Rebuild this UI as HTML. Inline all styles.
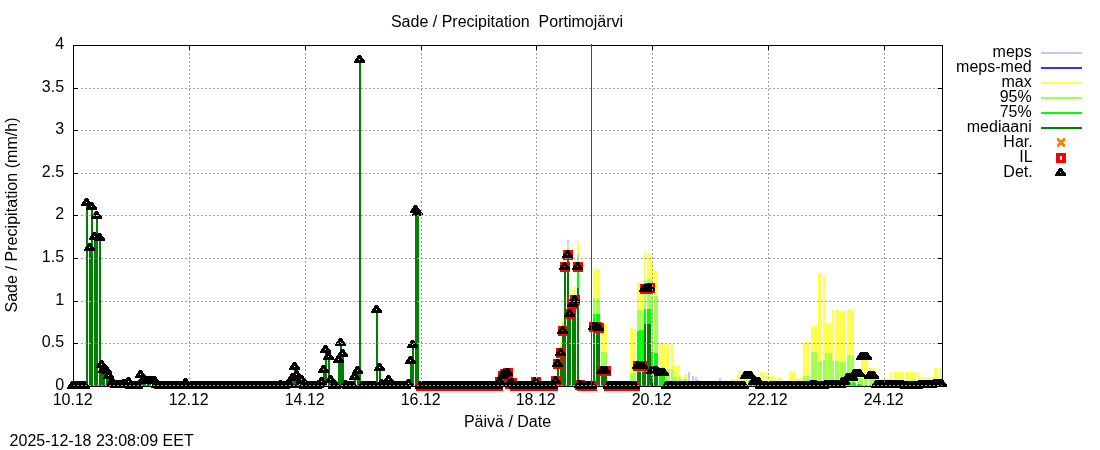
<!DOCTYPE html>
<html><head><meta charset="utf-8"><title>Sade / Precipitation Portimojärvi</title>
<style>html,body{margin:0;padding:0;background:#fff}svg{display:block}text{font-family:"Liberation Sans",sans-serif;font-size:16px;fill:#000}</style>
</head><body>
<svg width="1100" height="450" viewBox="0 0 1100 450">
<rect width="1100" height="450" fill="#fff"/>
<defs>
<path id="t" fill-rule="evenodd" d="M-1,-4h3v1h-3zM-2,-3h5v1h-5zM-2,-2h5v1h-5zM-3,-1h7v1h-7zM-4,0h9v1h-9zM-4,1h10v1h-10zM-5,2h11v1h-11zM-5,3h11v1h-11zM0,0h1v1h-1z"/>
<path id="q" fill-rule="evenodd" fill="#ff0000" d="M-4,-4h10v10h-10zM0,-1h2v4h-2z"/>
<path id="x" fill="#ff7f00" d="M-3,-4h2v1h-2zM3,-4h2v1h-2zM-3,-3h3v1h-3zM2,-3h3v1h-3zM-3,-2h8v1h-8zM-2,-1h6v1h-6zM-1,0h4v1h-4zM-2,1h6v1h-6zM-3,2h8v1h-8zM-3,3h3v1h-3zM2,3h3v1h-3zM-3,4h2v1h-2zM3,4h2v1h-2z"/>
</defs>
<g shape-rendering="crispEdges">
<path fill="#c6c6fc" d="M567,240h2V386h-2zM685,375h2V386h-2zM688,372h2V386h-2zM692,376h2V386h-2zM695,377h2V386h-2zM697,380h2V386h-2zM719,378h2V386h-2z"/>
<path fill="#ffff50" d="M560,341h2V386h-2zM562,319h2V386h-2zM567,245h2V386h-2zM572,290h2V386h-2zM574,286h2V386h-2zM577,241h2V386h-2zM593,268h2V386h-2zM596,269h2V386h-2zM598,269h2V386h-2zM601,324h2V386h-2zM603,324h2V386h-2zM605,324h2V386h-2zM630,328h2V386h-2zM632,329h2V386h-2zM634,329h2V386h-2zM637,283h2V386h-2zM639,283h2V386h-2zM642,283h2V386h-2zM644,252h2V386h-2zM647,253h2V386h-2zM649,254h2V386h-2zM651,262h2V386h-2zM654,270h2V386h-2zM656,271h2V386h-2zM659,343h2V386h-2zM661,343h2V386h-2zM663,343h2V386h-2zM666,345h2V386h-2zM668,344h2V386h-2zM671,344h2V386h-2zM673,365h2V386h-2zM675,365h2V386h-2zM678,365h2V386h-2zM680,376h2V386h-2zM683,376h2V386h-2zM685,376h2V386h-2zM731,379h2V386h-2zM733,379h2V386h-2zM736,379h2V386h-2zM738,371h2V386h-2zM741,371h2V386h-2zM743,371h2V386h-2zM745,371h2V386h-2zM748,371h2V386h-2zM750,371h2V386h-2zM753,378h2V386h-2zM755,378h2V386h-2zM758,378h2V386h-2zM760,372h2V386h-2zM762,372h2V386h-2zM765,372h2V386h-2zM767,376h2V386h-2zM770,376h2V386h-2zM772,376h2V386h-2zM774,378h2V386h-2zM777,378h2V386h-2zM779,378h2V386h-2zM789,371h2V386h-2zM791,371h2V386h-2zM794,371h2V386h-2zM796,378h2V386h-2zM799,378h2V386h-2zM801,378h2V386h-2zM803,342h2V386h-2zM806,342h2V386h-2zM808,342h2V386h-2zM811,326h2V386h-2zM813,326h2V386h-2zM815,326h2V386h-2zM818,273h2V386h-2zM820,273h2V386h-2zM823,275h2V386h-2zM825,323h2V386h-2zM828,323h2V386h-2zM830,323h2V386h-2zM832,310h2V386h-2zM835,310h2V386h-2zM837,310h2V386h-2zM840,311h2V386h-2zM842,311h2V386h-2zM844,311h2V386h-2zM847,309h2V386h-2zM849,309h2V386h-2zM852,309h2V386h-2zM854,369h2V386h-2zM857,369h2V386h-2zM859,369h2V386h-2zM861,356h2V386h-2zM864,356h2V386h-2zM866,356h2V386h-2zM869,368h2V386h-2zM871,368h2V386h-2zM873,368h2V386h-2zM876,378h2V386h-2zM878,378h2V386h-2zM881,378h2V386h-2zM883,379h2V386h-2zM885,379h2V386h-2zM888,379h2V386h-2zM890,372h2V386h-2zM893,372h2V386h-2zM895,372h2V386h-2zM898,372h2V386h-2zM900,372h2V386h-2zM902,372h2V386h-2zM905,372h2V386h-2zM907,372h2V386h-2zM910,372h2V386h-2zM912,372h2V386h-2zM914,372h2V386h-2zM917,372h2V386h-2zM919,377h2V386h-2zM922,377h2V386h-2zM924,377h2V386h-2zM927,377h2V386h-2zM929,377h2V386h-2zM931,377h2V386h-2zM934,368h2V386h-2zM936,368h2V386h-2zM939,368h2V386h-2zM941,368h2V386h-2z"/>
<path fill="#a5ff50" d="M557,358h2V386h-2zM560,346h2V386h-2zM562,323h2V386h-2zM567,247h2V386h-2zM577,254h2V386h-2zM593,298h2V386h-2zM596,299h2V386h-2zM598,299h2V386h-2zM601,352h2V386h-2zM603,352h2V386h-2zM605,352h2V386h-2zM630,373h2V386h-2zM632,373h2V386h-2zM634,373h2V386h-2zM637,310h2V386h-2zM639,310h2V386h-2zM642,311h2V386h-2zM644,280h2V386h-2zM647,279h2V386h-2zM649,279h2V386h-2zM651,296h2V386h-2zM654,296h2V386h-2zM656,296h2V386h-2zM659,367h2V386h-2zM661,367h2V386h-2zM663,367h2V386h-2zM666,369h2V386h-2zM668,369h2V386h-2zM671,369h2V386h-2zM673,377h2V386h-2zM675,377h2V386h-2zM678,377h2V386h-2zM680,379h2V386h-2zM683,379h2V386h-2zM685,379h2V386h-2zM745,380h2V386h-2zM748,380h2V386h-2zM750,380h2V386h-2zM803,376h2V386h-2zM806,376h2V386h-2zM808,376h2V386h-2zM811,352h2V386h-2zM813,352h2V386h-2zM815,352h2V386h-2zM818,361h2V386h-2zM820,361h2V386h-2zM823,360h2V386h-2zM825,353h2V386h-2zM828,353h2V386h-2zM830,353h2V386h-2zM832,361h2V386h-2zM835,361h2V386h-2zM837,361h2V386h-2zM840,362h2V386h-2zM842,362h2V386h-2zM844,362h2V386h-2zM847,355h2V386h-2zM849,355h2V386h-2zM852,355h2V386h-2zM854,378h2V386h-2zM857,378h2V386h-2zM859,378h2V386h-2zM861,378h2V386h-2zM864,378h2V386h-2zM866,378h2V386h-2zM869,379h2V386h-2zM871,379h2V386h-2zM873,379h2V386h-2zM905,380h2V386h-2zM907,380h2V386h-2zM910,380h2V386h-2zM912,380h2V386h-2zM914,380h2V386h-2zM917,380h2V386h-2z"/>
<path fill="#00ff00" d="M577,262h2V386h-2zM593,314h2V386h-2zM596,314h2V386h-2zM598,314h2V386h-2zM601,370h2V386h-2zM603,370h2V386h-2zM605,370h2V386h-2zM637,331h2V386h-2zM639,330h2V386h-2zM642,330h2V386h-2zM644,309h2V386h-2zM647,309h2V386h-2zM649,309h2V386h-2zM651,352h2V386h-2zM654,353h2V386h-2zM656,353h2V386h-2zM659,376h2V386h-2zM661,376h2V386h-2zM663,376h2V386h-2zM750,385h2V386h-2zM753,385h2V386h-2zM755,385h2V386h-2zM849,382h2V386h-2zM852,382h2V386h-2zM854,383h2V386h-2zM857,384h2V386h-2zM859,384h2V386h-2z"/>
<path fill="#008000" d="M86,203h2V386h-2zM89,248h2V386h-2zM91,207h2V386h-2zM94,237h2V386h-2zM96,216h2V386h-2zM99,238h2V386h-2zM101,365h2V386h-2zM103,370h2V386h-2zM106,371h2V386h-2zM108,376h2V386h-2zM111,383h2V386h-2zM113,384h2V386h-2zM115,385h2V386h-2zM118,385h2V386h-2zM120,385h2V386h-2zM123,384h2V386h-2zM125,384h2V386h-2zM128,382h2V386h-2zM140,375h2V386h-2zM142,381h2V386h-2zM144,381h2V386h-2zM147,381h2V386h-2zM149,381h2V386h-2zM152,381h2V386h-2zM154,381h2V386h-2zM156,385h2V386h-2zM185,383h2V386h-2zM280,385h2V386h-2zM287,385h2V386h-2zM289,385h2V386h-2zM292,378h2V386h-2zM294,367h2V386h-2zM296,375h2V386h-2zM299,385h2V386h-2zM301,380h2V386h-2zM318,385h2V386h-2zM321,382h2V386h-2zM323,370h2V386h-2zM325,350h2V386h-2zM328,357h2V386h-2zM330,380h2V386h-2zM338,360h2V386h-2zM340,343h2V386h-2zM342,354h2V386h-2zM345,385h2V386h-2zM354,377h2V386h-2zM357,371h2V386h-2zM359,60h2V386h-2zM376,310h2V386h-2zM379,368h2V386h-2zM381,384h2V386h-2zM388,380h2V386h-2zM408,384h2V386h-2zM410,361h2V386h-2zM412,345h2V386h-2zM415,210h2V386h-2zM417,213h2V386h-2zM499,382h2V386h-2zM502,376h2V386h-2zM504,374h2V386h-2zM507,373h2V386h-2zM509,384h2V386h-2zM511,383h2V386h-2zM535,382h2V386h-2zM555,381h2V386h-2zM557,364h2V386h-2zM560,353h2V386h-2zM562,331h2V386h-2zM564,267h2V386h-2zM567,255h2V386h-2zM569,314h2V386h-2zM572,304h2V386h-2zM574,300h2V386h-2zM577,288h2V386h-2zM579,385h2V386h-2zM593,326h2V386h-2zM596,327h2V386h-2zM598,327h2V386h-2zM601,370h2V386h-2zM603,370h2V386h-2zM605,370h2V386h-2zM637,372h2V386h-2zM639,372h2V386h-2zM642,372h2V386h-2zM644,324h2V386h-2zM647,324h2V386h-2zM649,324h2V386h-2zM651,376h2V386h-2zM654,376h2V386h-2zM656,376h2V386h-2z"/>
<use href="#x" x="420" y="385"/><use href="#x" x="422" y="385"/><use href="#x" x="424" y="385"/><use href="#x" x="427" y="385"/><use href="#x" x="429" y="385"/><use href="#x" x="432" y="385"/><use href="#x" x="434" y="385"/><use href="#x" x="436" y="385"/><use href="#x" x="439" y="385"/><use href="#x" x="441" y="385"/><use href="#x" x="444" y="385"/><use href="#x" x="446" y="385"/><use href="#x" x="449" y="385"/><use href="#x" x="451" y="385"/><use href="#x" x="453" y="385"/><use href="#x" x="456" y="385"/><use href="#x" x="458" y="385"/><use href="#x" x="461" y="385"/><use href="#x" x="463" y="385"/><use href="#x" x="465" y="385"/><use href="#x" x="468" y="385"/><use href="#x" x="470" y="385"/><use href="#x" x="473" y="385"/><use href="#x" x="475" y="385"/><use href="#x" x="478" y="385"/><use href="#x" x="480" y="385"/><use href="#x" x="482" y="385"/><use href="#x" x="485" y="385"/><use href="#x" x="487" y="385"/><use href="#x" x="490" y="385"/><use href="#x" x="492" y="385"/><use href="#x" x="494" y="385"/><use href="#x" x="497" y="385"/><use href="#x" x="499" y="381"/><use href="#x" x="502" y="375"/><use href="#x" x="504" y="373"/><use href="#x" x="507" y="372"/><use href="#x" x="509" y="383"/><use href="#x" x="511" y="382"/><use href="#x" x="514" y="385"/><use href="#x" x="516" y="385"/><use href="#x" x="519" y="385"/><use href="#x" x="521" y="385"/><use href="#x" x="523" y="385"/><use href="#x" x="526" y="385"/><use href="#x" x="528" y="385"/><use href="#x" x="531" y="385"/><use href="#x" x="533" y="385"/><use href="#x" x="535" y="381"/><use href="#x" x="538" y="385"/><use href="#x" x="540" y="385"/><use href="#x" x="543" y="385"/><use href="#x" x="545" y="385"/><use href="#x" x="548" y="385"/><use href="#x" x="550" y="385"/><use href="#x" x="552" y="385"/><use href="#x" x="555" y="380"/><use href="#x" x="557" y="363"/><use href="#x" x="560" y="352"/><use href="#x" x="562" y="330"/><use href="#x" x="564" y="266"/><use href="#x" x="567" y="254"/><use href="#x" x="569" y="313"/><use href="#x" x="572" y="303"/><use href="#x" x="574" y="299"/><use href="#x" x="577" y="266"/><use href="#x" x="579" y="384"/><use href="#x" x="581" y="385"/><use href="#x" x="584" y="385"/><use href="#x" x="586" y="385"/><use href="#x" x="589" y="385"/><use href="#x" x="591" y="385"/><use href="#x" x="593" y="326"/><use href="#x" x="596" y="326"/><use href="#x" x="598" y="327"/><use href="#x" x="601" y="370"/><use href="#x" x="603" y="370"/><use href="#x" x="605" y="370"/><use href="#x" x="608" y="385"/><use href="#x" x="610" y="385"/><use href="#x" x="613" y="385"/><use href="#x" x="615" y="385"/><use href="#x" x="618" y="385"/><use href="#x" x="620" y="385"/><use href="#x" x="622" y="385"/><use href="#x" x="625" y="385"/><use href="#x" x="627" y="385"/><use href="#x" x="630" y="385"/><use href="#x" x="632" y="385"/><use href="#x" x="634" y="385"/><use href="#x" x="637" y="365"/><use href="#x" x="639" y="365"/><use href="#x" x="642" y="365"/><use href="#x" x="644" y="288"/><use href="#x" x="647" y="288"/><use href="#x" x="649" y="287"/>
<use href="#q" x="420" y="385"/><use href="#q" x="422" y="385"/><use href="#q" x="424" y="385"/><use href="#q" x="427" y="385"/><use href="#q" x="429" y="385"/><use href="#q" x="432" y="385"/><use href="#q" x="434" y="385"/><use href="#q" x="436" y="385"/><use href="#q" x="439" y="385"/><use href="#q" x="441" y="385"/><use href="#q" x="444" y="385"/><use href="#q" x="446" y="385"/><use href="#q" x="449" y="385"/><use href="#q" x="451" y="385"/><use href="#q" x="453" y="385"/><use href="#q" x="456" y="385"/><use href="#q" x="458" y="385"/><use href="#q" x="461" y="385"/><use href="#q" x="463" y="385"/><use href="#q" x="465" y="385"/><use href="#q" x="468" y="385"/><use href="#q" x="470" y="385"/><use href="#q" x="473" y="385"/><use href="#q" x="475" y="385"/><use href="#q" x="478" y="385"/><use href="#q" x="480" y="385"/><use href="#q" x="482" y="385"/><use href="#q" x="485" y="385"/><use href="#q" x="487" y="385"/><use href="#q" x="490" y="385"/><use href="#q" x="492" y="385"/><use href="#q" x="494" y="385"/><use href="#q" x="497" y="385"/><use href="#q" x="499" y="381"/><use href="#q" x="502" y="375"/><use href="#q" x="504" y="373"/><use href="#q" x="507" y="372"/><use href="#q" x="509" y="383"/><use href="#q" x="511" y="382"/><use href="#q" x="514" y="385"/><use href="#q" x="516" y="385"/><use href="#q" x="519" y="385"/><use href="#q" x="521" y="385"/><use href="#q" x="523" y="385"/><use href="#q" x="526" y="385"/><use href="#q" x="528" y="385"/><use href="#q" x="531" y="385"/><use href="#q" x="533" y="385"/><use href="#q" x="535" y="381"/><use href="#q" x="538" y="385"/><use href="#q" x="540" y="385"/><use href="#q" x="543" y="385"/><use href="#q" x="545" y="385"/><use href="#q" x="548" y="385"/><use href="#q" x="550" y="385"/><use href="#q" x="552" y="385"/><use href="#q" x="555" y="380"/><use href="#q" x="557" y="363"/><use href="#q" x="560" y="352"/><use href="#q" x="562" y="330"/><use href="#q" x="564" y="266"/><use href="#q" x="567" y="254"/><use href="#q" x="569" y="313"/><use href="#q" x="572" y="303"/><use href="#q" x="574" y="299"/><use href="#q" x="577" y="266"/><use href="#q" x="579" y="384"/><use href="#q" x="581" y="385"/><use href="#q" x="584" y="385"/><use href="#q" x="586" y="385"/><use href="#q" x="589" y="385"/><use href="#q" x="591" y="385"/><use href="#q" x="593" y="326"/><use href="#q" x="596" y="326"/><use href="#q" x="598" y="327"/><use href="#q" x="601" y="370"/><use href="#q" x="603" y="370"/><use href="#q" x="605" y="370"/><use href="#q" x="608" y="385"/><use href="#q" x="610" y="385"/><use href="#q" x="613" y="385"/><use href="#q" x="615" y="385"/><use href="#q" x="618" y="385"/><use href="#q" x="620" y="385"/><use href="#q" x="622" y="385"/><use href="#q" x="625" y="385"/><use href="#q" x="627" y="385"/><use href="#q" x="630" y="385"/><use href="#q" x="632" y="385"/><use href="#q" x="634" y="385"/><use href="#q" x="637" y="365"/><use href="#q" x="639" y="365"/><use href="#q" x="642" y="365"/><use href="#q" x="644" y="288"/><use href="#q" x="647" y="288"/><use href="#q" x="649" y="287"/>
<use href="#t" x="72" y="385"/><use href="#t" x="74" y="385"/><use href="#t" x="77" y="385"/><use href="#t" x="79" y="385"/><use href="#t" x="82" y="385"/><use href="#t" x="84" y="385"/><use href="#t" x="86" y="202"/><use href="#t" x="89" y="247"/><use href="#t" x="91" y="206"/><use href="#t" x="94" y="236"/><use href="#t" x="96" y="215"/><use href="#t" x="99" y="237"/><use href="#t" x="101" y="364"/><use href="#t" x="103" y="369"/><use href="#t" x="106" y="370"/><use href="#t" x="108" y="375"/><use href="#t" x="111" y="382"/><use href="#t" x="113" y="383"/><use href="#t" x="115" y="384"/><use href="#t" x="118" y="384"/><use href="#t" x="120" y="384"/><use href="#t" x="123" y="383"/><use href="#t" x="125" y="383"/><use href="#t" x="128" y="381"/><use href="#t" x="130" y="385"/><use href="#t" x="132" y="385"/><use href="#t" x="135" y="385"/><use href="#t" x="137" y="385"/><use href="#t" x="140" y="374"/><use href="#t" x="142" y="380"/><use href="#t" x="144" y="380"/><use href="#t" x="147" y="380"/><use href="#t" x="149" y="380"/><use href="#t" x="152" y="380"/><use href="#t" x="154" y="380"/><use href="#t" x="156" y="384"/><use href="#t" x="159" y="385"/><use href="#t" x="161" y="385"/><use href="#t" x="164" y="385"/><use href="#t" x="166" y="385"/><use href="#t" x="169" y="385"/><use href="#t" x="171" y="385"/><use href="#t" x="173" y="385"/><use href="#t" x="176" y="385"/><use href="#t" x="178" y="385"/><use href="#t" x="181" y="385"/><use href="#t" x="183" y="385"/><use href="#t" x="185" y="382"/><use href="#t" x="188" y="385"/><use href="#t" x="190" y="385"/><use href="#t" x="193" y="385"/><use href="#t" x="195" y="385"/><use href="#t" x="198" y="385"/><use href="#t" x="200" y="385"/><use href="#t" x="202" y="385"/><use href="#t" x="205" y="385"/><use href="#t" x="207" y="385"/><use href="#t" x="210" y="385"/><use href="#t" x="212" y="385"/><use href="#t" x="214" y="385"/><use href="#t" x="217" y="385"/><use href="#t" x="219" y="385"/><use href="#t" x="222" y="385"/><use href="#t" x="224" y="385"/><use href="#t" x="226" y="385"/><use href="#t" x="229" y="385"/><use href="#t" x="231" y="385"/><use href="#t" x="234" y="385"/><use href="#t" x="236" y="385"/><use href="#t" x="239" y="385"/><use href="#t" x="241" y="385"/><use href="#t" x="243" y="385"/><use href="#t" x="246" y="385"/><use href="#t" x="248" y="385"/><use href="#t" x="251" y="385"/><use href="#t" x="253" y="385"/><use href="#t" x="255" y="385"/><use href="#t" x="258" y="385"/><use href="#t" x="260" y="385"/><use href="#t" x="263" y="385"/><use href="#t" x="265" y="385"/><use href="#t" x="268" y="385"/><use href="#t" x="270" y="385"/><use href="#t" x="272" y="385"/><use href="#t" x="275" y="385"/><use href="#t" x="277" y="385"/><use href="#t" x="280" y="384"/><use href="#t" x="282" y="385"/><use href="#t" x="284" y="385"/><use href="#t" x="287" y="384"/><use href="#t" x="289" y="384"/><use href="#t" x="292" y="377"/><use href="#t" x="294" y="366"/><use href="#t" x="296" y="374"/><use href="#t" x="299" y="384"/><use href="#t" x="301" y="379"/><use href="#t" x="304" y="385"/><use href="#t" x="306" y="385"/><use href="#t" x="309" y="385"/><use href="#t" x="311" y="385"/><use href="#t" x="313" y="385"/><use href="#t" x="316" y="385"/><use href="#t" x="318" y="384"/><use href="#t" x="321" y="381"/><use href="#t" x="323" y="369"/><use href="#t" x="325" y="349"/><use href="#t" x="328" y="356"/><use href="#t" x="330" y="379"/><use href="#t" x="333" y="385"/><use href="#t" x="335" y="385"/><use href="#t" x="338" y="359"/><use href="#t" x="340" y="342"/><use href="#t" x="342" y="353"/><use href="#t" x="345" y="384"/><use href="#t" x="347" y="385"/><use href="#t" x="350" y="385"/><use href="#t" x="352" y="385"/><use href="#t" x="354" y="376"/><use href="#t" x="357" y="370"/><use href="#t" x="359" y="59"/><use href="#t" x="362" y="385"/><use href="#t" x="364" y="385"/><use href="#t" x="366" y="385"/><use href="#t" x="369" y="385"/><use href="#t" x="371" y="385"/><use href="#t" x="374" y="385"/><use href="#t" x="376" y="309"/><use href="#t" x="379" y="367"/><use href="#t" x="381" y="383"/><use href="#t" x="383" y="385"/><use href="#t" x="386" y="385"/><use href="#t" x="388" y="379"/><use href="#t" x="391" y="385"/><use href="#t" x="393" y="385"/><use href="#t" x="395" y="385"/><use href="#t" x="398" y="385"/><use href="#t" x="400" y="385"/><use href="#t" x="403" y="385"/><use href="#t" x="405" y="385"/><use href="#t" x="408" y="383"/><use href="#t" x="410" y="360"/><use href="#t" x="412" y="344"/><use href="#t" x="415" y="209"/><use href="#t" x="417" y="212"/><use href="#t" x="420" y="385"/><use href="#t" x="422" y="385"/><use href="#t" x="424" y="385"/><use href="#t" x="427" y="385"/><use href="#t" x="429" y="385"/><use href="#t" x="432" y="385"/><use href="#t" x="434" y="385"/><use href="#t" x="436" y="385"/><use href="#t" x="439" y="385"/><use href="#t" x="441" y="385"/><use href="#t" x="444" y="385"/><use href="#t" x="446" y="385"/><use href="#t" x="449" y="385"/><use href="#t" x="451" y="385"/><use href="#t" x="453" y="385"/><use href="#t" x="456" y="385"/><use href="#t" x="458" y="385"/><use href="#t" x="461" y="385"/><use href="#t" x="463" y="385"/><use href="#t" x="465" y="385"/><use href="#t" x="468" y="385"/><use href="#t" x="470" y="385"/><use href="#t" x="473" y="385"/><use href="#t" x="475" y="385"/><use href="#t" x="478" y="385"/><use href="#t" x="480" y="385"/><use href="#t" x="482" y="385"/><use href="#t" x="485" y="385"/><use href="#t" x="487" y="385"/><use href="#t" x="490" y="385"/><use href="#t" x="492" y="385"/><use href="#t" x="494" y="385"/><use href="#t" x="497" y="385"/><use href="#t" x="499" y="381"/><use href="#t" x="502" y="375"/><use href="#t" x="504" y="373"/><use href="#t" x="507" y="372"/><use href="#t" x="509" y="383"/><use href="#t" x="511" y="382"/><use href="#t" x="514" y="385"/><use href="#t" x="516" y="385"/><use href="#t" x="519" y="385"/><use href="#t" x="521" y="385"/><use href="#t" x="523" y="385"/><use href="#t" x="526" y="385"/><use href="#t" x="528" y="385"/><use href="#t" x="531" y="385"/><use href="#t" x="533" y="385"/><use href="#t" x="535" y="381"/><use href="#t" x="538" y="385"/><use href="#t" x="540" y="385"/><use href="#t" x="543" y="385"/><use href="#t" x="545" y="385"/><use href="#t" x="548" y="385"/><use href="#t" x="550" y="385"/><use href="#t" x="552" y="385"/><use href="#t" x="555" y="380"/><use href="#t" x="557" y="363"/><use href="#t" x="560" y="352"/><use href="#t" x="562" y="330"/><use href="#t" x="564" y="266"/><use href="#t" x="567" y="254"/><use href="#t" x="569" y="313"/><use href="#t" x="572" y="303"/><use href="#t" x="574" y="299"/><use href="#t" x="577" y="266"/><use href="#t" x="579" y="384"/><use href="#t" x="581" y="385"/><use href="#t" x="584" y="385"/><use href="#t" x="586" y="385"/><use href="#t" x="589" y="385"/><use href="#t" x="591" y="385"/><use href="#t" x="593" y="326"/><use href="#t" x="596" y="326"/><use href="#t" x="598" y="327"/><use href="#t" x="601" y="370"/><use href="#t" x="603" y="370"/><use href="#t" x="605" y="370"/><use href="#t" x="608" y="385"/><use href="#t" x="610" y="385"/><use href="#t" x="613" y="385"/><use href="#t" x="615" y="385"/><use href="#t" x="618" y="385"/><use href="#t" x="620" y="385"/><use href="#t" x="622" y="385"/><use href="#t" x="625" y="385"/><use href="#t" x="627" y="385"/><use href="#t" x="630" y="385"/><use href="#t" x="632" y="385"/><use href="#t" x="634" y="385"/><use href="#t" x="637" y="365"/><use href="#t" x="639" y="365"/><use href="#t" x="642" y="365"/><use href="#t" x="644" y="288"/><use href="#t" x="647" y="288"/><use href="#t" x="649" y="287"/><use href="#t" x="651" y="370"/><use href="#t" x="654" y="370"/><use href="#t" x="656" y="370"/><use href="#t" x="659" y="372"/><use href="#t" x="661" y="372"/><use href="#t" x="663" y="372"/><use href="#t" x="666" y="385"/><use href="#t" x="668" y="385"/><use href="#t" x="671" y="385"/><use href="#t" x="673" y="385"/><use href="#t" x="675" y="385"/><use href="#t" x="678" y="385"/><use href="#t" x="680" y="385"/><use href="#t" x="683" y="385"/><use href="#t" x="685" y="385"/><use href="#t" x="688" y="385"/><use href="#t" x="690" y="385"/><use href="#t" x="692" y="385"/><use href="#t" x="695" y="385"/><use href="#t" x="697" y="385"/><use href="#t" x="700" y="385"/><use href="#t" x="702" y="385"/><use href="#t" x="704" y="385"/><use href="#t" x="707" y="385"/><use href="#t" x="709" y="385"/><use href="#t" x="712" y="385"/><use href="#t" x="714" y="385"/><use href="#t" x="717" y="385"/><use href="#t" x="719" y="385"/><use href="#t" x="721" y="385"/><use href="#t" x="724" y="385"/><use href="#t" x="726" y="385"/><use href="#t" x="729" y="385"/><use href="#t" x="731" y="385"/><use href="#t" x="733" y="385"/><use href="#t" x="736" y="385"/><use href="#t" x="738" y="385"/><use href="#t" x="741" y="385"/><use href="#t" x="743" y="385"/><use href="#t" x="745" y="375"/><use href="#t" x="748" y="375"/><use href="#t" x="750" y="375"/><use href="#t" x="753" y="381"/><use href="#t" x="755" y="381"/><use href="#t" x="758" y="381"/><use href="#t" x="760" y="385"/><use href="#t" x="762" y="385"/><use href="#t" x="765" y="385"/><use href="#t" x="767" y="385"/><use href="#t" x="770" y="385"/><use href="#t" x="772" y="385"/><use href="#t" x="774" y="385"/><use href="#t" x="777" y="385"/><use href="#t" x="779" y="385"/><use href="#t" x="782" y="385"/><use href="#t" x="784" y="385"/><use href="#t" x="787" y="385"/><use href="#t" x="789" y="385"/><use href="#t" x="791" y="385"/><use href="#t" x="794" y="385"/><use href="#t" x="796" y="385"/><use href="#t" x="799" y="385"/><use href="#t" x="801" y="385"/><use href="#t" x="803" y="385"/><use href="#t" x="806" y="385"/><use href="#t" x="808" y="385"/><use href="#t" x="811" y="384"/><use href="#t" x="813" y="384"/><use href="#t" x="815" y="384"/><use href="#t" x="818" y="385"/><use href="#t" x="820" y="385"/><use href="#t" x="823" y="385"/><use href="#t" x="825" y="384"/><use href="#t" x="828" y="384"/><use href="#t" x="830" y="384"/><use href="#t" x="832" y="384"/><use href="#t" x="835" y="384"/><use href="#t" x="837" y="384"/><use href="#t" x="840" y="384"/><use href="#t" x="842" y="381"/><use href="#t" x="844" y="381"/><use href="#t" x="847" y="377"/><use href="#t" x="849" y="377"/><use href="#t" x="852" y="377"/><use href="#t" x="854" y="373"/><use href="#t" x="857" y="373"/><use href="#t" x="859" y="373"/><use href="#t" x="861" y="356"/><use href="#t" x="864" y="356"/><use href="#t" x="866" y="356"/><use href="#t" x="869" y="375"/><use href="#t" x="871" y="375"/><use href="#t" x="873" y="375"/><use href="#t" x="876" y="384"/><use href="#t" x="878" y="384"/><use href="#t" x="881" y="384"/><use href="#t" x="883" y="384"/><use href="#t" x="885" y="384"/><use href="#t" x="888" y="384"/><use href="#t" x="890" y="384"/><use href="#t" x="893" y="384"/><use href="#t" x="895" y="384"/><use href="#t" x="898" y="384"/><use href="#t" x="900" y="384"/><use href="#t" x="902" y="384"/><use href="#t" x="905" y="385"/><use href="#t" x="907" y="385"/><use href="#t" x="910" y="385"/><use href="#t" x="912" y="385"/><use href="#t" x="914" y="385"/><use href="#t" x="917" y="385"/><use href="#t" x="919" y="384"/><use href="#t" x="922" y="384"/><use href="#t" x="924" y="384"/><use href="#t" x="927" y="384"/><use href="#t" x="929" y="384"/><use href="#t" x="931" y="384"/><use href="#t" x="934" y="383"/><use href="#t" x="936" y="383"/><use href="#t" x="939" y="383"/><use href="#t" x="941" y="383"/>
<path stroke="#a0a0a0" stroke-width="1" stroke-dasharray="2 2" fill="none" d="M73,385.5H942M81,343.5H938M81,301.5H938M81,258.5H938M81,215.5H938M81,173.5H938M81,130.5H938M81,88.5H938"/>
<path stroke="#a0a0a0" stroke-width="1" stroke-dasharray="2 2" fill="none" d="M189.5,49V382M305.5,49V382M421.5,49V382M536.5,49V382M652.5,49V382M768.5,49V382M884.5,49V382"/>
<path stroke="#000" stroke-width="1" fill="none" d="M73.5,45.5H942.5V386.5H73.5zM73,386.5h5M943,386.5h-5M73,343.5h5M943,343.5h-5M73,301.5h5M943,301.5h-5M73,258.5h5M943,258.5h-5M73,215.5h5M943,215.5h-5M73,173.5h5M943,173.5h-5M73,130.5h5M943,130.5h-5M73,88.5h5M943,88.5h-5M73,45.5h5M943,45.5h-5M73.5,387v-5M73.5,45v5M189.5,387v-5M189.5,45v5M305.5,387v-5M305.5,45v5M421.5,387v-5M421.5,45v5M536.5,387v-5M536.5,45v5M652.5,387v-5M652.5,45v5M768.5,387v-5M768.5,45v5M884.5,387v-5M884.5,45v5"/>
<rect x="591" y="44" width="1" height="342" fill="#ff0000"/>
<rect x="1041" y="52" width="41" height="2" fill="#c6c6fc"/>
<rect x="1041" y="67" width="41" height="2" fill="#3838e0"/>
<rect x="1041" y="82" width="41" height="2" fill="#ffff50"/>
<rect x="1041" y="97" width="41" height="2" fill="#a5ff50"/>
<rect x="1041" y="112" width="41" height="2" fill="#00ff00"/>
<rect x="1041" y="127" width="41" height="2" fill="#008000"/>
<use href="#x" x="1060" y="142"/>
<use href="#q" x="1060" y="157"/>
<use href="#t" x="1060" y="172"/>
</g>
<g style="will-change:transform">
<text x="507" y="27" text-anchor="middle" xml:space="preserve">Sade / Precipitation  Portimojärvi</text>
<text x="507.5" y="427" text-anchor="middle">Päivä / Date</text>
<text transform="translate(17,215) rotate(-90)" text-anchor="middle" style="letter-spacing:0.05px">Sade / Precipitation (mm/h)</text>
<text x="9.6" y="446">2025-12-18 23:08:09 EET</text>
<text x="64.1" y="390" text-anchor="end">0</text>
<text x="64.1" y="347" text-anchor="end">0.5</text>
<text x="64.1" y="305" text-anchor="end">1</text>
<text x="64.1" y="262" text-anchor="end">1.5</text>
<text x="64.1" y="219" text-anchor="end">2</text>
<text x="64.1" y="177" text-anchor="end">2.5</text>
<text x="64.1" y="134" text-anchor="end">3</text>
<text x="64.1" y="92" text-anchor="end">3.5</text>
<text x="64.1" y="49" text-anchor="end">4</text>
<text x="72.7" y="405" text-anchor="middle">10.12</text>
<text x="188.7" y="405" text-anchor="middle">12.12</text>
<text x="304.7" y="405" text-anchor="middle">14.12</text>
<text x="420.7" y="405" text-anchor="middle">16.12</text>
<text x="535.7" y="405" text-anchor="middle">18.12</text>
<text x="651.7" y="405" text-anchor="middle">20.12</text>
<text x="767.7" y="405" text-anchor="middle">22.12</text>
<text x="883.7" y="405" text-anchor="middle">24.12</text>
<text x="1031.7" y="57" text-anchor="end">meps</text>
<text x="1031.7" y="72" text-anchor="end">meps-med</text>
<text x="1031.7" y="87" text-anchor="end">max</text>
<text x="1031.7" y="102" text-anchor="end">95%</text>
<text x="1031.7" y="117" text-anchor="end">75%</text>
<text x="1031.7" y="132" text-anchor="end">mediaani</text>
<text x="1032.7" y="147" text-anchor="end">Har.</text>
<text x="1032.7" y="162" text-anchor="end">IL</text>
<text x="1032.7" y="177" text-anchor="end">Det.</text>
</g>
</svg></body></html>
